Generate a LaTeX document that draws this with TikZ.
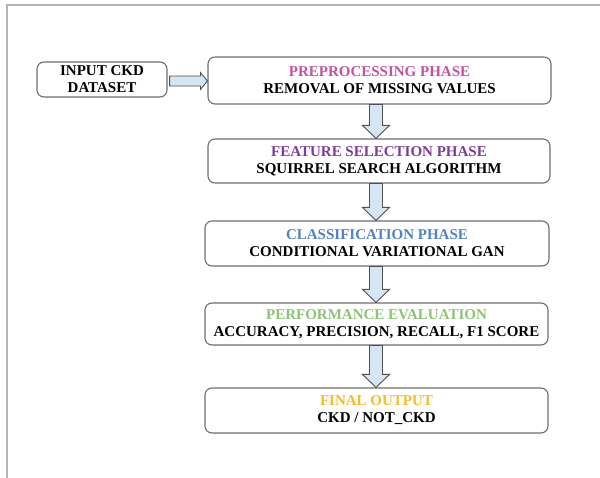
\documentclass[tikz,border=0pt]{standalone}
\usepackage{fontspec}
\setmainfont{Liberation Serif}
\usetikzlibrary{calc}
\definecolor{boxline}{HTML}{6E6E6E}
\definecolor{arrfill}{HTML}{D5E5F3}
\definecolor{arrline}{HTML}{505050}
\definecolor{cpre}{HTML}{C4529E}
\definecolor{cfea}{HTML}{7D3C98}
\definecolor{ccls}{HTML}{4F83C6}
\definecolor{cper}{HTML}{8CC474}
\definecolor{cfin}{HTML}{F4BC2A}
\definecolor{frame}{HTML}{B4B4B4}
\tikzset{
  phasebox/.style={draw=boxline, line width=1.1pt, rounded corners=7pt, fill=white,
    align=center, inner sep=0pt, font=\fontsize{15}{17}\selectfont\bfseries},
  blockarrow/.style={draw=arrline, line width=0.9pt, fill=arrfill, line join=miter}
}
\begin{document}
\begin{tikzpicture}[x=1pt,y=-1pt]
\useasboundingbox (0,0) rectangle (600,478);
\draw[frame, line width=1.4pt] (7,478) -- (7,5) -- (600,5);

\node[phasebox, minimum width=130pt, minimum height=35pt] (inp) at (102,79.5) {INPUT CKD\\DATASET};
\node[phasebox, minimum width=343pt, minimum height=47pt] (pre) at (379.5,80.5) {\textcolor{cpre}{PREPROCESSING PHASE}\\REMOVAL OF MISSING VALUES};
\node[phasebox, minimum width=342pt, minimum height=44pt] (fea) at (379,161) {\textcolor{cfea}{FEATURE SELECTION PHASE}\\SQUIRREL SEARCH ALGORITHM};
\node[phasebox, minimum width=344pt, minimum height=45pt] (cls) at (377,243.5) {\textcolor{ccls}{CLASSIFICATION PHASE}\\CONDITIONAL VARIATIONAL GAN};
\node[phasebox, minimum width=343pt, minimum height=42pt] (per) at (376.5,324) {\textcolor{cper}{PERFORMANCE EVALUATION}\\ACCURACY, PRECISION, RECALL, F1 SCORE};
\node[phasebox, minimum width=343pt, minimum height=45pt] (fin) at (376.5,410.5) {\textcolor{cfin}{FINAL OUTPUT}\\CKD / NOT\_CKD};

\coordinate (ax) at (376,0);
\coordinate (ay) at (0,81);
% horizontal block arrow
\draw[blockarrow] let \p1=(inp.east), \p2=(pre.west), \p3=(ay) in
  (\x1+2pt,\y3+5pt) -- (\x2-7pt,\y3+5pt) -- (\x2-7pt,\y3+8.5pt) -- (\x2,\y3)
  -- (\x2-7pt,\y3-8.5pt) -- (\x2-7pt,\y3-5pt) -- (\x1+2pt,\y3-5pt) -- cycle;
% vertical block arrows
\foreach \a/\b in {pre/fea, fea/cls, cls/per, per/fin}{
  \draw[blockarrow] let \p1=(\a.south), \p2=(\b.north), \p3=(ax) in
    (\x3-6.5pt,\y1) -- (\x3+6.5pt,\y1) -- (\x3+6.5pt,\y2+13pt) -- (\x3+13.5pt,\y2+13pt)
    -- (\x3,\y2) -- (\x3-13.5pt,\y2+13pt) -- (\x3-6.5pt,\y2+13pt) -- cycle;
}
\end{tikzpicture}
\end{document}
